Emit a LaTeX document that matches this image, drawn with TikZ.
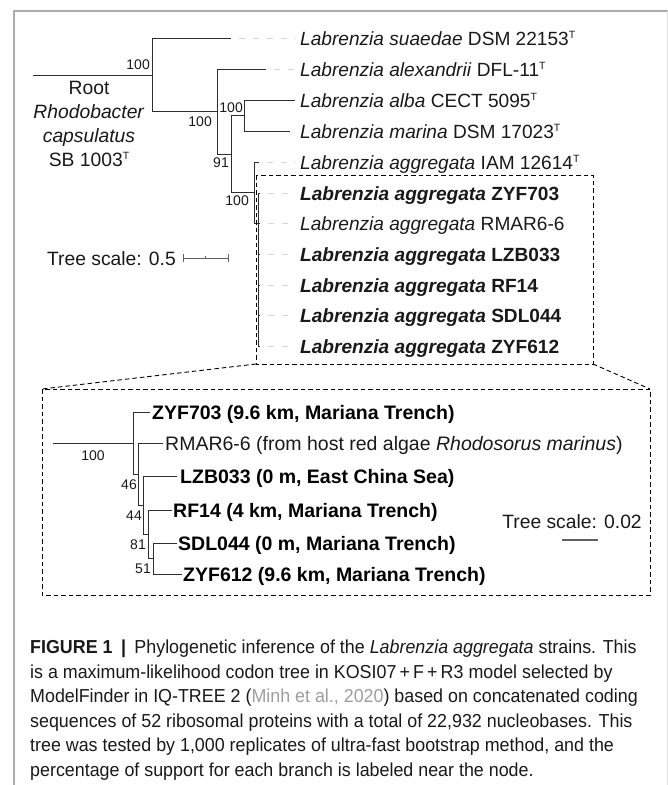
\documentclass[tikz,border=0pt]{standalone}
\usepackage{fontspec}
\setmainfont{Liberation Sans}
\newfontfamily\capfont[FakeStretch=0.95]{Liberation Sans}
\usetikzlibrary{calc}
\definecolor{framecol}{gray}{0.68}
\definecolor{leadcol}{gray}{0.84}
\definecolor{brcol}{gray}{0.18}
\definecolor{citecol}{gray}{0.62}
\definecolor{scalecol}{gray}{0.38}
\definecolor{txtcol}{gray}{0.1}
\newcommand\supT{\raisebox{7pt}{\fontsize{10.5}{10}\selectfont T}}
\begin{document}
\begin{tikzpicture}[x=1pt,y=-1pt,
  branch/.style={draw=brcol, line width=1pt},
  leader/.style={draw=leadcol, line width=0.8pt, dash pattern=on 6pt off 8pt, dash phase=-8pt},
  zoombox/.style={draw=black, line width=0.9pt, dash pattern=on 4.5pt off 3pt},
  leaf/.style={anchor=base west, inner sep=0pt, text=txtcol, font=\fontsize{19.1}{23}\selectfont},
  subleaf/.style={anchor=base west, inner sep=0pt, text=black, font=\fontsize{19.5}{23}\selectfont},
  boot/.style={inner sep=0pt, text=txtcol, font=\fontsize{14}{16}\selectfont},
  scaletxt/.style={inner sep=0pt, text=txtcol, font=\fontsize{19.3}{23}\selectfont},
  capline/.style={anchor=base west, inner sep=0pt, text=txtcol, font=\capfont\fontsize{18.8}{24}\selectfont},
  scalebar/.style={draw=scalecol, line width=1.2pt}
]
\useasboundingbox (0,0) rectangle (668,785);
% frame
\draw[framecol, line width=1.2pt] (14,785) -- (14,11) -- (668,11);
\draw[gray!25, line width=0.8pt] (667,11) -- (667,785);

% ---------- upper tree ----------
\coordinate (r0) at (33,75);
\coordinate (n0) at (152,75);
\coordinate (t1) at (231,38);
\coordinate (n1) at (217,111.5);
\coordinate (t2) at (266,69);
\coordinate (n2) at (231,154.5);
\coordinate (n3) at (244,115.5);
\coordinate (t3) at (295,100);
\coordinate (t4) at (290,131);
\coordinate (n4) at (254,192);
\coordinate (t5) at (259,162);
\coordinate (n5) at (258,223);
\coordinate (s1) at (260,193);
\coordinate (s2) at (260,223);
\coordinate (s3) at (260,254);
\coordinate (s4) at (260,285);
\coordinate (s5) at (260,315);
\coordinate (s6) at (260,346);

\draw[branch] (r0) -- (n0);
\draw[branch] (n0) |- (t1);
\draw[branch] (n0) |- (n1);
\draw[branch] (n1) |- (t2);
\draw[branch] (n1) |- (n2);
\draw[branch] (n2) |- (n3);
\draw[branch] (n2) |- (n4);
\draw[branch] (n3) |- (t3);
\draw[branch] (n3) |- (t4);
\draw[branch] (n4) |- (t5);
\draw[branch] (n4) |- (n5);
\draw[branch] (n5) |- (s1);
\draw[branch] (n5) |- (s2);
\draw[branch] (n5) |- (s3);
\draw[branch] (n5) |- (s4);
\draw[branch] (n5) |- (s5);
\draw[branch] (n5) |- (s6);

% leaf labels
\node[leaf] (L1) at (300,45) {\textit{Labrenzia suaedae} DSM 22153\supT};
\node[leaf] (L2) at (300,76) {\textit{Labrenzia alexandrii} DFL-11\supT};
\node[leaf] (L3) at (300,107) {\textit{Labrenzia alba} CECT 5095\supT};
\node[leaf] (L4) at (300,138) {\textit{Labrenzia marina} DSM 17023\supT};
\node[leaf] (L5) at (300,169) {\textit{Labrenzia aggregata} IAM 12614\supT};
\node[leaf] (L6) at (300,200) {\textbf{\textit{Labrenzia aggregata} ZYF703}};
\node[leaf] (L7) at (300,230) {\textit{Labrenzia aggregata} RMAR6-6};
\node[leaf] (L8) at (300,261) {\textbf{\textit{Labrenzia aggregata} LZB033}};
\node[leaf] (L9) at (300,292) {\textbf{\textit{Labrenzia aggregata} RF14}};
\node[leaf] (L10) at (300,322) {\textbf{\textit{Labrenzia aggregata} SDL044}};
\node[leaf] (L11) at (300,353) {\textbf{\textit{Labrenzia aggregata} ZYF612}};

% leaders
\draw[leader, shorten >=4pt] (t1) -- (t1 -| L1.west);
\draw[leader, shorten >=4pt] (t2) -- (t2 -| L2.west);
\draw[leader, shorten >=4pt] (t5) -- (t5 -| L5.west);
\draw[leader, shorten >=4pt] (s1) -- (s1 -| L6.west);
\draw[leader, shorten >=4pt] (s2) -- (s2 -| L7.west);
\draw[leader, shorten >=4pt] (s3) -- (s3 -| L8.west);
\draw[leader, shorten >=4pt] (s4) -- (s4 -| L9.west);
\draw[leader, shorten >=4pt] (s5) -- (s5 -| L10.west);
\draw[leader, shorten >=4pt] (s6) -- (s6 -| L11.west);

% bootstrap values
\node[boot, anchor=east] (b1) at (150,65) {100};
\node[boot, anchor=east] (b2) at (212,122) {100};
\node[boot, anchor=east] (b3) at (229,163) {91};
\node[boot, anchor=east] (b4) at (243,108) {100};
\node[boot, anchor=east] (b5) at (249,201) {100};

% root label
\node[inner sep=0pt, align=center, text=txtcol, font=\fontsize{19.3}{24.2}\selectfont] (rootlab) at (89,124)
  {Root\\\textit{Rhodobacter}\\\textit{capsulatus}\\SB 1003\supT};

% tree scale 0.5
\node[scaletxt, anchor=east] (ts1) at (176,259) {Tree scale: 0.5};
\coordinate (sb1) at (183,258);
\coordinate (sb2) at (228,258);
\draw[draw=scalecol, line width=0.9pt] (sb1) -- (sb2);
\draw[draw=scalecol, line width=0.9pt] ($(sb1)+(0,-4)$) -- ($(sb1)+(0,4)$);
\draw[draw=scalecol, line width=0.9pt] ($(sb2)+(0,-4)$) -- ($(sb2)+(0,4)$);
\draw[draw=scalecol, line width=0.9pt] (205.5,255.5) -- (205.5,258);

% ---------- zoom boxes ----------
\coordinate (zb1) at (256,175);
\coordinate (zb2) at (593,364);
\coordinate (lb1) at (42,389);
\coordinate (lb2) at (650,595);
\draw[zoombox] (zb1) rectangle (zb2);
\draw[zoombox] (zb1 |- zb2) -- (lb1);
\draw[zoombox] (zb2) -- (lb2 |- lb1);
\draw[zoombox] (lb1) rectangle (lb2);

% ---------- lower tree ----------
\coordinate (lr0) at (53,443);
\coordinate (la) at (133,443);
\coordinate (lb) at (138,474);
\coordinate (lc) at (143,505);
\coordinate (ld) at (148,534);
\coordinate (le) at (153,558.5);
\coordinate (u1) at (150,412);
\coordinate (u2) at (163,443);
\coordinate (u3) at (177,476);
\coordinate (u4) at (172,510);
\coordinate (u5) at (177,543);
\coordinate (u6) at (182,574);
\draw[branch] (lr0) -- (la);
\draw[branch] (la) |- (u1);
\draw[branch] (la) |- (lb);
\draw[branch] (lb) |- (u2);
\draw[branch] (lb) |- (lc);
\draw[branch] (lc) |- (u3);
\draw[branch] (lc) |- (ld);
\draw[branch] (ld) |- (u4);
\draw[branch] (ld) |- (le);
\draw[branch] (le) |- (u5);
\draw[branch] (le) |- (u6);

\node[subleaf] (M1) at (152,419) {\textbf{ZYF703 (9.6 km, Mariana Trench)}};
\node[subleaf, text=txtcol] (M2) at (165,450) {RMAR6-6 (from host red algae \textit{Rhodosorus marinus})};
\node[subleaf] (M3) at (180,483) {\textbf{LZB033 (0 m, East China Sea)}};
\node[subleaf] (M4) at (173,517) {\textbf{RF14 (4 km, Mariana Trench)}};
\node[subleaf] (M5) at (178,550) {\textbf{SDL044 (0 m, Mariana Trench)}};
\node[subleaf] (M6) at (183,581) {\textbf{ZYF612 (9.6 km, Mariana Trench)}};

\node[boot] (c1) at (93,456) {100};
\node[boot, anchor=east] (c2) at (137,485) {46};
\node[boot, anchor=east] (c3) at (142,516) {44};
\node[boot, anchor=east] (c4) at (146,545) {81};
\node[boot, anchor=east] (c5) at (151,569) {51};

\node[scaletxt] (ts2) at (572,522) {Tree scale: 0.02};
\draw[scalebar] (562,540) -- (598,540);

% ---------- caption ----------
\node[capline] (cap1) at (30,653.5) {\textbf{FIGURE 1}\hspace{0.45em}\textbf{|}\hspace{0.45em}Phylogenetic inference of the \textit{Labrenzia aggregata} strains. This};
\node[capline] (cap2) at (30,678) {is a maximum-likelihood codon tree in KOSI07\,+\,F\,+\,R3 model selected by};
\node[capline] (cap3) at (30,702.5) {ModelFinder in IQ-TREE 2 (\textcolor{citecol}{Minh et al., 2020}) based on concatenated coding};
\node[capline] (cap4) at (30,727) {sequences of 52 ribosomal proteins with a total of 22,932 nucleobases. This};
\node[capline] (cap5) at (30,751.5) {tree was tested by 1,000 replicates of ultra-fast bootstrap method, and the};
\node[capline] (cap6) at (30,776) {percentage of support for each branch is labeled near the node.};
\end{tikzpicture}
\end{document}
